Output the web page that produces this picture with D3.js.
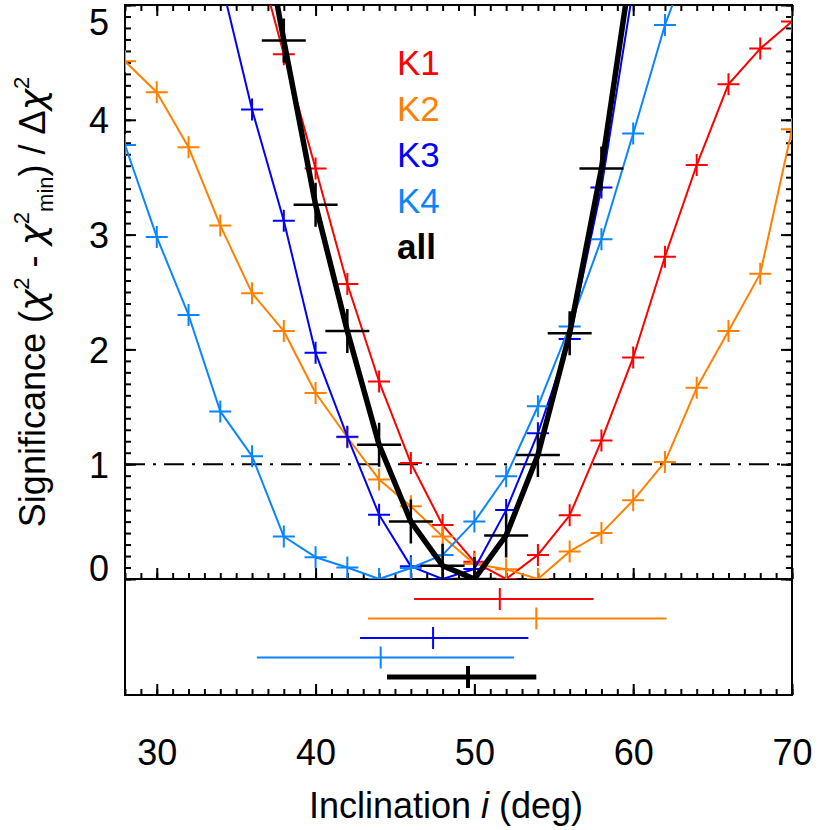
<!DOCTYPE html>
<html>
<head>
<meta charset="utf-8">
<script src="https://cdn.jsdelivr.net/npm/d3@7"></script>
<style>
  html, body { margin: 0; padding: 0; background: #fff; }
  svg text { font-family: "Liberation Sans", Arial, sans-serif; fill: #000; }
</style>
</head>
<body>
<div id="chart"></div>
<script>
// inclination grid (deg) and significance per band; null = not plotted
const inclination = [28,30,32,34,36,38,40,42,44,46,48,50,52,54,56,58,60,62,64,66,68,70];
const sigK1 = [null,null,null,null,5.6,4.57,3.575,2.57,1.72,1.01,0.47,0.15,0,0.21,0.555,1.206,1.93,2.807,3.606,4.31,4.62,4.856];
const sigK2 = [4.51,4.24,3.76,3.08,2.49,2.16,1.62,1.235,0.866,0.633,0.37,0.13,0.085,0,0.24,0.40,0.685,1.02,1.665,2.16,2.66,3.917];
const sigK3 = [null,null,null,5.24,4.09,3.12,1.97,1.24,0.56,0.11,0,0.087,0.60,1.27,2.09,3.41,5.15,null,null,null,null,null];
const sigK4 = [3.78,2.98,2.30,1.46,1.07,0.37,0.19,0.10,0,0.096,0.21,0.50,0.895,1.505,2.20,2.96,3.88,4.826,5.57,null,null,null];
const sigAll = [null,null,null,null,6.2,4.69,3.26,2.16,1.17,0.50,0.116,0,0.38,1.08,2.14,3.575,5.45,null,null,null,null,null];

const bandNames = ["K1","K2","K3","K4","all"];
const bandColors = ["#ff0000","#ff8000","#0000ff","#0a84ff","#000000"];

// best-fit inclination and 1-sigma range per band (lower panel)
const bestFit = [51.6,53.9,47.4,44.1,49.6];
const fitLow = [46.2,43.3,42.8,36.3,44.5];
const fitHigh = [57.5,62.1,53.4,52.5,53.9];

const xTicks = [30,40,50,60,70];
const yTicks = [0,1,2,3,4,5];
const threshold = 1;

const W = 830, H = 830;
const pL = 125, pR = 792, pT = 5, mainBottom = 579, lowBottom = 695;
const labelSize = 36;

const x = d3.scaleLinear().domain([28,70]).range([pL,pR]);
const y = d3.scaleLinear().domain([0,5]).range([mainBottom,pT]);
const row = d3.scalePoint().domain(bandNames).range([599,677]);

const svg = d3.select("#chart").append("svg")
    .attr("width", W)
    .attr("height", H);

svg.append("clipPath").attr("id","mainClip")
  .append("rect")
    .attr("x", pL).attr("y", pT)
    .attr("width", pR-pL).attr("height", mainBottom-pT);

const series = [sigK1, sigK2, sigK3, sigK4, sigAll].map((vals, i) => ({
  name: bandNames[i],
  color: bandColors[i],
  points: inclination.map((inc, j) => ({inc: inc, v: vals[j]})).filter(p => p.v !== null)
}));

// ---- axes ticks ----
const minorX = d3.range(28,70.5,1);
const minorY = d3.range(0,5.05,0.1);
const styleAxis = g => {
  g.select(".domain").remove();
  g.selectAll("line").attr("stroke","#000").attr("stroke-width",2);
};

svg.append("g").attr("transform",`translate(${pL},0)`)
  .call(d3.axisLeft(y).tickValues(minorY).tickSize(-6).tickFormat(""))
  .call(styleAxis);
svg.append("g").attr("transform",`translate(${pR},0)`)
  .call(d3.axisRight(y).tickValues(minorY).tickSize(-6).tickFormat(""))
  .call(styleAxis);
svg.append("g").attr("transform",`translate(${pR},0)`)
  .call(d3.axisRight(y).tickValues(yTicks).tickSize(-11).tickFormat(""))
  .call(styleAxis);

const yAxis = svg.append("g").attr("transform",`translate(${pL},0)`)
  .call(d3.axisLeft(y).tickValues(yTicks).tickFormat(d3.format("d"))
    .tickSizeInner(-11).tickSizeOuter(0).tickPadding(16))
  .call(styleAxis);
yAxis.selectAll("text")
  .attr("font-size", labelSize)
  .attr("font-family", "Liberation Sans, Arial, sans-serif")
  .attr("dy", d => d === 5 ? "0.82em" : d === 0 ? "0.05em" : "0.36em");

[pT, mainBottom].forEach(yy => {
  const ax = yy === pT ? d3.axisTop : d3.axisBottom;
  const dir = yy === pT ? 1 : -1;
  svg.append("g").attr("transform",`translate(0,${yy})`)
    .call(ax(x).tickValues(minorX).tickFormat(""))
    .call(g => g.selectAll("line").attr("y2", dir * 6))
    .call(styleAxis);
  svg.append("g").attr("transform",`translate(0,${yy})`)
    .call(ax(x).tickValues(xTicks).tickFormat(""))
    .call(g => g.selectAll("line").attr("y2", dir * 11))
    .call(styleAxis);
});

svg.append("g").attr("transform",`translate(0,${lowBottom})`)
  .call(d3.axisBottom(x).tickValues(minorX).tickSize(-6).tickFormat(""))
  .call(styleAxis);
const xAxis = svg.append("g").attr("transform",`translate(0,${lowBottom})`)
  .call(d3.axisBottom(x).tickValues(xTicks).tickFormat(d3.format("d"))
    .tickSizeInner(-11).tickSizeOuter(0).tickPadding(44))
  .call(styleAxis);
xAxis.selectAll("text")
  .attr("font-size", labelSize)
  .attr("font-family", "Liberation Sans, Arial, sans-serif");

// frames
svg.append("rect")
  .attr("x", pL).attr("y", pT)
  .attr("width", pR-pL).attr("height", lowBottom-pT)
  .attr("fill","none").attr("stroke","#000").attr("stroke-width",2);
svg.append("line")
  .attr("x1", pL).attr("x2", pR)
  .attr("y1", mainBottom).attr("y2", mainBottom)
  .attr("stroke","#000").attr("stroke-width",2);

// ---- main panel ----
const plot = svg.append("g").attr("clip-path","url(#mainClip)");

plot.append("line")
  .attr("x1", pL).attr("x2", pR)
  .attr("y1", y(threshold)).attr("y2", y(threshold))
  .attr("stroke","#000").attr("stroke-width",2)
  .attr("stroke-dasharray","20,8,3,8");

const lineGen = d3.line().x(p => x(p.inc)).y(p => y(p.v));
const crossPath = (cx, cy, s) => `M${cx-s},${cy}H${cx+s}M${cx},${cy-s}V${cy+s}`;

series.forEach(s => {
  const isAll = s.name === "all";
  plot.append("path")
    .datum(s.points)
    .attr("d", lineGen)
    .attr("fill","none")
    .attr("stroke", s.color)
    .attr("stroke-width", isAll ? 5.5 : 2)
    .attr("stroke-linejoin","round");
  plot.append("g").selectAll("path")
    .data(s.points.filter(p => p.v <= 5.2))
    .enter()
      .append("path")
      .attr("d", p => crossPath(x(p.inc), y(p.v), isAll ? 22 : 11))
      .attr("fill","none")
      .attr("stroke", s.color)
      .attr("stroke-width", isAll ? 2.5 : 2);
});

// legend
svg.append("g").selectAll("text")
  .data(bandNames)
  .enter()
    .append("text")
    .attr("x", 397)
    .attr("y", (d, i) => 75 + i * 46)
    .attr("font-size", 35)
    .attr("font-weight", d => d === "all" ? "bold" : "normal")
    .style("fill", (d, i) => bandColors[i])
    .text(d => d);

// ---- lower panel: best fit ranges ----
const lower = svg.append("g");
bandNames.forEach((name, i) => {
  const isAll = name === "all";
  const ry = row(name);
  lower.append("line")
    .attr("x1", x(fitLow[i])).attr("x2", x(fitHigh[i]))
    .attr("y1", ry).attr("y2", ry)
    .attr("stroke", bandColors[i]).attr("stroke-width", isAll ? 5 : 2);
  lower.append("line")
    .attr("x1", x(bestFit[i])).attr("x2", x(bestFit[i]))
    .attr("y1", ry - 11).attr("y2", ry + 11)
    .attr("stroke", bandColors[i]).attr("stroke-width", isAll ? 4 : 2);
});

// ---- titles ----
const xt = svg.append("text")
  .attr("x", 446).attr("y", 818)
  .attr("text-anchor","middle")
  .attr("font-size", labelSize);
xt.append("tspan").text("Inclination ");
xt.append("tspan").attr("font-style","italic").text("i");
xt.append("tspan").text(" (deg)");

const chi = t => t.attr("font-family","DejaVu Sans, sans-serif").attr("font-style","italic");
const yt = svg.append("text")
  .attr("transform", `translate(45,302) rotate(-90)`)
  .attr("text-anchor","middle")
  .attr("font-size", labelSize);
yt.append("tspan").text("Significance (");
yt.append("tspan").call(chi).text("χ");
yt.append("tspan").attr("font-size", 22).attr("dy", -16).text("2");
yt.append("tspan").attr("dy", 16).text(" - ");
yt.append("tspan").call(chi).text("χ");
yt.append("tspan").attr("font-size", 22).attr("dy", -16).text("2");
yt.append("tspan").attr("font-size", 22).attr("dy", 24).text("min");
yt.append("tspan").attr("dy", -8).text(") / Δ");
yt.append("tspan").call(chi).text("χ");
yt.append("tspan").attr("font-size", 22).attr("dy", -16).text("2");
</script>
</body>
</html>
